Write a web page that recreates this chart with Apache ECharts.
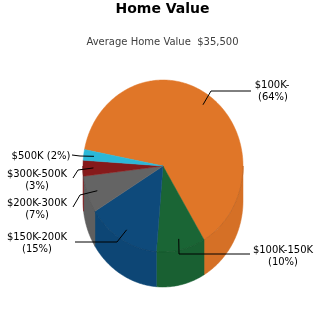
<!DOCTYPE html>
<html>
<head>
<meta charset="utf-8">
<script src="https://cdn.jsdelivr.net/npm/echarts@6/dist/echarts.min.js"></script>
<style>
  html, body { margin: 0; padding: 0; background: #fff; }
  #chart { width: 325px; height: 325px; }
</style>
</head>
<body>
<div id="chart"></div>
<script>
// Home value bands and their share of homes (percent)
const categories = ['$100K-', '$100K-150K', '$150K-200K', '$200K-300K', '$300K-500K', '$500K'];
const shares = [64, 10, 15, 7, 3, 2];
const averageValue = '$35,500';

const palette = ['#E07628', '#1A6535', '#0E4A7B', '#646464', '#861A1B', '#2CB8D8'];

// Tilted pie: ellipse centre and radii, wall depth, first slice edge (degrees, CCW from +x), slices run clockwise
const pie = { cx: 163, cy: 166, rx: 80, ry: 86, depth: 35, start: 169, anchor: 0.87 };

// Label placement: leader elbow and end point, text centre x per line, first line y, line count
const labelLayout = [
  { elbow: [211, 91],  end: [251, 91],  x: [272, 273], y: 85,  lines: 2 },
  { elbow: [179, 254], end: [250, 254], x: [283, 283], y: 250, lines: 2 },
  { elbow: [117, 242], end: [75, 242],  x: [37, 37],   y: 237, lines: 2 },
  { elbow: [80, 195],  end: [73, 207],  x: [37, 37],   y: 203, lines: 2 },
  { elbow: [78, 170],  end: [73, 178],  x: [37, 37],   y: 174, lines: 2 },
  { elbow: [80, 156],  end: [72, 155],  x: [41],       y: 156, lines: 1 }
];

const FONT = '"DejaVu Sans", Verdana, sans-serif';
const total = shares.reduce((a, b) => a + b, 0);

function pt(deg, k, dy) {
  const r = deg * Math.PI / 180;
  return [pie.cx + pie.rx * k * Math.cos(r), pie.cy - pie.ry * k * Math.sin(r) + (dy || 0)];
}

function arc(from, to, dy) {
  const pts = [];
  const n = Math.max(2, Math.ceil(Math.abs(from - to)));
  for (let i = 0; i <= n; i++) pts.push(pt(from + (to - from) * i / n, 1, dy));
  return pts;
}

function shade(hex, f) {
  const c = echarts.color.parse(hex);
  return 'rgb(' + [0, 1, 2].map(i => Math.round(c[i] * f)).join(',') + ')';
}

function renderSlice(params, api) {
  const i = params.dataIndex;
  const before = shares.slice(0, i).reduce((a, b) => a + b, 0);
  const a0 = pie.start - before / total * 360;
  const a1 = a0 - api.value(1) / total * 360;
  const color = palette[i];
  const children = [];

  // front wall: part of the slice facing the viewer (angles with negative sine)
  [[-180, 0], [-540, -360], [180, 360]].forEach(([lo, hi]) => {
    const h = Math.min(a0, hi), l = Math.max(a1, lo);
    if (h > l) {
      const top = arc(h, l, 0);
      const bottom = arc(l, h, pie.depth);
      children.push({
        type: 'polygon', z2: 1,
        shape: { points: top.concat(bottom) },
        style: { fill: shade(color, 0.95), stroke: shade(color, 0.95), lineWidth: 0.5 }
      });
      children.push({
        type: 'polyline', z2: 3,
        shape: { points: top },
        style: { stroke: shade(color, 0.8), lineWidth: 1, fill: null, opacity: 0.6 }
      });
    }
  });

  // top face
  children.push({
    type: 'polygon', z2: 2,
    shape: { points: [[pie.cx, pie.cy]].concat(arc(a0, a1, 0)) },
    style: { fill: color, stroke: color, lineWidth: 0.5 }
  });

  // leader line and label
  const lay = labelLayout[i];
  const mid = (a0 + a1) / 2;
  children.push({
    type: 'polyline', z2: 5,
    shape: { points: [pt(mid, pie.anchor, 0), lay.elbow, lay.end] },
    style: { stroke: '#000', lineWidth: 1, fill: null }
  });
  const pct = '(' + api.value(1) + '%)';
  const lines = lay.lines === 1 ? [categories[i] + ' ' + pct] : [categories[i], pct];
  lines.forEach((t, k) => {
    children.push({
      type: 'text', z2: 6,
      style: {
        text: t, x: lay.x[k], y: lay.y + k * 12,
        align: 'center', verticalAlign: 'middle',
        font: '10px ' + FONT, fill: '#000'
      }
    });
  });

  return { type: 'group', children };
}

const chart = echarts.init(document.getElementById('chart'), null, { renderer: 'canvas' });
chart.setOption({
  animation: false,
  backgroundColor: '#fff',
  title: {
    text: 'Home Value',
    subtext: 'Average Home Value  ' + averageValue,
    left: 'center',
    top: 1,
    padding: 0,
    itemGap: 19,
    textStyle: { fontFamily: FONT, fontSize: 14, fontWeight: 'bold', color: '#000', lineHeight: 16 },
    subtextStyle: { fontFamily: FONT, fontSize: 10, color: '#404040', lineHeight: 12 }
  },
  series: [{
    type: 'custom',
    coordinateSystem: 'none',
    renderItem: renderSlice,
    data: shares.map((v, i) => [i, v])
  }]
});
</script>
</body>
</html>
